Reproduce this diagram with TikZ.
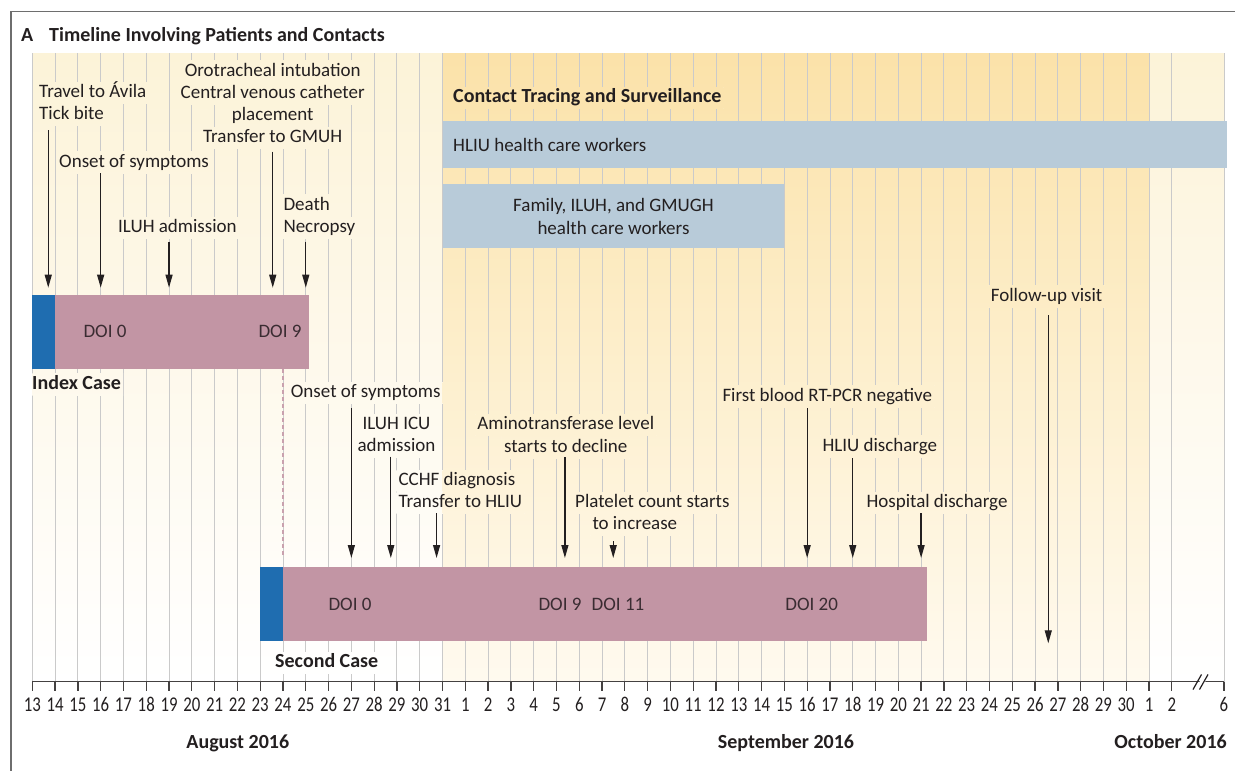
\documentclass[tikz,border=0pt]{standalone}
\usepackage{fontspec}
\setmainfont{Carlito}
\newfontfamily\numfont{Carlito}[FakeStretch=0.8]
\usetikzlibrary{arrows.meta}

\definecolor{ink}{HTML}{231F20}
\definecolor{framec}{HTML}{6E6E6E}
\definecolor{gridc}{HTML}{CACACA}
\definecolor{creamtop}{HTML}{FCF3D8}
\definecolor{creammid}{HTML}{FEF9EC}
\definecolor{yeltop}{HTML}{FBE2A9}
\definecolor{yelmid}{HTML}{FDEFCD}
\definecolor{yelbot}{HTML}{FFFAEF}
\definecolor{barpink}{HTML}{C295A4}
\definecolor{barblue}{HTML}{1F6DB0}
\definecolor{contactblue}{HTML}{B8CBD9}
\definecolor{dashpink}{HTML}{C9A1AE}
\definecolor{doitext}{HTML}{3A2C32}

\newcommand{\dayx}[1]{32.3+22.79*(#1)}

\pgfdeclarelayer{bgl}
\pgfdeclarelayer{gridl}
\pgfdeclarelayer{patchl}
\pgfsetlayers{bgl,gridl,patchl,main}

\newcommand{\plotbg}{%
  \shade[top color=creamtop, bottom color=white, middle color=creammid]
    ({\dayx{0}},53.3) rectangle ({\dayx{52.29}},681.7);
  \shade[top color=yeltop, bottom color=yelbot, middle color=yelmid]
    ({\dayx{18}},53.3) rectangle ({\dayx{49}},681.7);
}

\tikzset{
  lbl/.style={font=\fontsize{19}{22}\selectfont, text=ink, inner sep=2pt,
    text height=13pt, text depth=4pt},
  lblb/.style={lbl, font=\fontsize{20}{23}\selectfont\bfseries},
  doi/.style={lbl, text=doitext, anchor=base},
  tnum/.style={font=\numfont\fontsize{21}{24}\selectfont, text=ink, inner sep=0pt, anchor=base},
  gridline/.style={draw=gridc, line width=0.9pt},
  axisline/.style={draw=ink!85, line width=1.3pt},
  evarrow/.style={draw=ink, line width=1.3pt, -{Triangle[length=13pt,width=7pt]}},
  linkdash/.style={draw=dashpink, line width=1.6pt, dash pattern=on 4pt off 3pt},
}

\begin{document}
\begin{tikzpicture}[x=1pt, y=-1pt]
\useasboundingbox (0,0) rectangle (1235,771);

% background
\begin{pgfonlayer}{bgl}
  \fill[white] (0,0) rectangle (1235,771);
  \plotbg
\end{pgfonlayer}

% grid
\begin{pgfonlayer}{gridl}
  \foreach \i in {0,...,50} \draw[gridline] ({\dayx{\i}},53.3) -- ({\dayx{\i}},681.7);
  \draw[gridline] ({\dayx{52.29}},53.3) -- ({\dayx{52.29}},681.7);
\end{pgfonlayer}

% frame
\draw[framec, line width=1.5pt] (11,771) -- (11,11.7) -- (1235,11.7);

% title
\node[lblb, anchor=base west] (tA) at (19,41) {A};
\node[lblb, anchor=base west] (tTitle) at (47,41) {Timeline Involving Patients and Contacts};

% contact tracing
\node[lblb, anchor=base west] (ct) at (451,102.7) {Contact Tracing and Surveillance};
\fill[contactblue] ({\dayx{18}},120.7) rectangle (1227,168.3);
\node[lbl, anchor=base west] (hliu) at (451,151) {HLIU health care workers};
\fill[contactblue] ({\dayx{18}},184) rectangle ({\dayx{33}},248.3);
\node[lbl, anchor=base] (fam1) at ({\dayx{25.5}},211.5) {Family, ILUH, and GMUGH};
\node[lbl, anchor=base] (fam2) at ({\dayx{25.5}},234) {health care workers};

% index case bar
\fill[barblue] ({\dayx{0}},295) rectangle ({\dayx{1}},369);
\fill[barpink] ({\dayx{1}},295) rectangle ({\dayx{12.12}},369);
\node[doi] (d1) at (105,337.7) {DOI 0};
\node[doi] (d2) at (280,337.7) {DOI 9};
\node[lblb, anchor=base west] (indexcase) at (30,389) {Index Case};

% index case labels
\node[lbl, anchor=base west] (idx1a) at (37,97.7) {Travel to Ávila};
\node[lbl, anchor=base west] (idx1b) at (37,119.3) {Tick bite};
\node[lbl, anchor=base west] (idx2) at (57,167) {Onset of symptoms};
\node[lbl, anchor=base west] (idx3) at (116,232.7) {ILUH admission};
\node[lbl, anchor=base] (idx4a) at (272.7,76) {Orotracheal intubation};
\node[lbl, anchor=base] (idx4b) at (272.7,98.4) {Central venous catheter};
\node[lbl, anchor=base] (idx4c) at (272.7,120.6) {placement};
\node[lbl, anchor=base] (idx4d) at (272.7,142.7) {Transfer to GMUH};
\node[lbl, anchor=base west] (idx5a) at (281.3,210) {Death};
\node[lbl, anchor=base west] (idx5b) at (281.3,232.7) {Necropsy};

% second case bar
\fill[barblue] ({\dayx{10}},566.7) rectangle ({\dayx{11}},641);
\fill[barpink] ({\dayx{11}},566.7) rectangle ({\dayx{39.24}},641);
\node[doi] (d3) at (350,610) {DOI 0};
\node[doi] (d4) at (560,610) {DOI 9};
\node[doi] (d5) at (618,610) {DOI 11};
\node[doi] (d6) at (811.7,610) {DOI 20};
\node[lblb, anchor=base west] (secondcase) at (273,667.7) {Second Case};

% second case labels
\node[lbl, anchor=base west] (s1) at (288.7,397.7) {Onset of symptoms};
\node[lbl, anchor=base] (s2a) at (396.5,429.3) {ILUH ICU};
\node[lbl, anchor=base] (s2b) at (396.5,451) {admission};
\node[lbl, anchor=base west] (s3a) at (396.3,485.3) {CCHF diagnosis};
\node[lbl, anchor=base west] (s3b) at (396.3,507.7) {Transfer to HLIU};
\node[lbl, anchor=base] (s4a) at (565.8,429.3) {Aminotransferase level};
\node[lbl, anchor=base] (s4b) at (565.8,452) {starts to decline};
\node[lbl, anchor=base west] (s5a) at (573,507.7) {Platelet count starts};
\node[lbl, anchor=base west] (s5b) at (590.3,529.3) {to increase};
\node[lbl, anchor=base west] (s6) at (720.3,401) {First blood RT-PCR negative};
\node[lbl, anchor=base west] (s7) at (820.3,451) {HLIU discharge};
\node[lbl, anchor=base west] (s8) at (864.3,507.7) {Hospital discharge};
\node[lbl, anchor=base west] (fu) at (988.7,301) {Follow-up visit};

% knockouts of grid lines behind labels
\begin{pgfonlayer}{patchl}
  \foreach \n in {idx1a,idx1b,idx2,idx3,idx4a,idx4b,idx4c,idx4d,idx5a,idx5b,indexcase,ct,
                  s1,s2a,s2b,s3a,s3b,s4a,s4b,s5a,s5b,s6,s7,s8,fu,secondcase}{
    \begin{scope}
      \clip (\n.south west) rectangle (\n.north east);
      \plotbg
    \end{scope}
  }
\end{pgfonlayer}

% dashed link between cases
\coordinate (dtop) at ({\dayx{11}},369);
\coordinate (dbot) at ({\dayx{11}},557);
\draw[linkdash] (dtop) -- (dbot);

% event arrows
\foreach \n/\d/\s/\e in {a1/0.70/130/287.7, a2/3/173.3/287.7, a3/6/241.7/287.7,
    a4/10.55/151.7/287.7, a5/12/241.7/287.7,
    b1/14/408/558, b2/15.73/456.7/558, b3/17.74/513.3/558, b4/23.37/457.3/558,
    b5/25.49/541/558, b6/34/408.3/558, b7/36/458.3/558, b8/39/513.3/558,
    f1/44.58/315/643.3}{
  \coordinate (\n s) at ({\dayx{\d}},\s);
  \coordinate (\n e) at ({\dayx{\d}},\e);
  \draw[evarrow] (\n s) -- (\n e);
}

% axis
\coordinate (ax0) at ({\dayx{0}},681.7);
\coordinate (ax1) at ({\dayx{52.29}},681.7);
\draw[axisline] (ax0) -- (ax1);
\foreach \i in {0,...,50} \draw[axisline] ({\dayx{\i}},681.7) -- ({\dayx{\i}},690.5);
\draw[axisline] ({\dayx{52.29}},681.7) -- ({\dayx{52.29}},690.5);
% break mark
\fill[white] (1195.5,689) -- (1203.5,675) -- (1209,675) -- (1201,689) -- cycle;
\draw[draw=ink, line width=1.2pt] (1193,689.5) -- (1201.5,674.5);
\draw[draw=ink, line width=1.2pt] (1199.5,689.5) -- (1208,674.5);

\foreach \i in {0,...,18}{
  \pgfmathtruncatemacro{\lab}{13+\i}
  \node[tnum] (n\i) at ({\dayx{\i}},711.8) {\lab};
}
\foreach \i in {19,...,48}{
  \pgfmathtruncatemacro{\lab}{\i-18}
  \node[tnum] (n\i) at ({\dayx{\i}},711.8) {\lab};
}
\node[tnum] (n49) at ({\dayx{49}},711.8) {1};
\node[tnum] (n50) at ({\dayx{50}},711.8) {2};
\node[tnum] (n52) at ({\dayx{52.29}},711.8) {6};

\node[lblb, anchor=base] (maug) at (237.8,748) {August 2016};
\node[lblb, anchor=base] (msep) at (786,748) {September 2016};
\node[lblb, anchor=base east] (moct) at (1229,748) {October 2016};

\end{tikzpicture}
\end{document}
